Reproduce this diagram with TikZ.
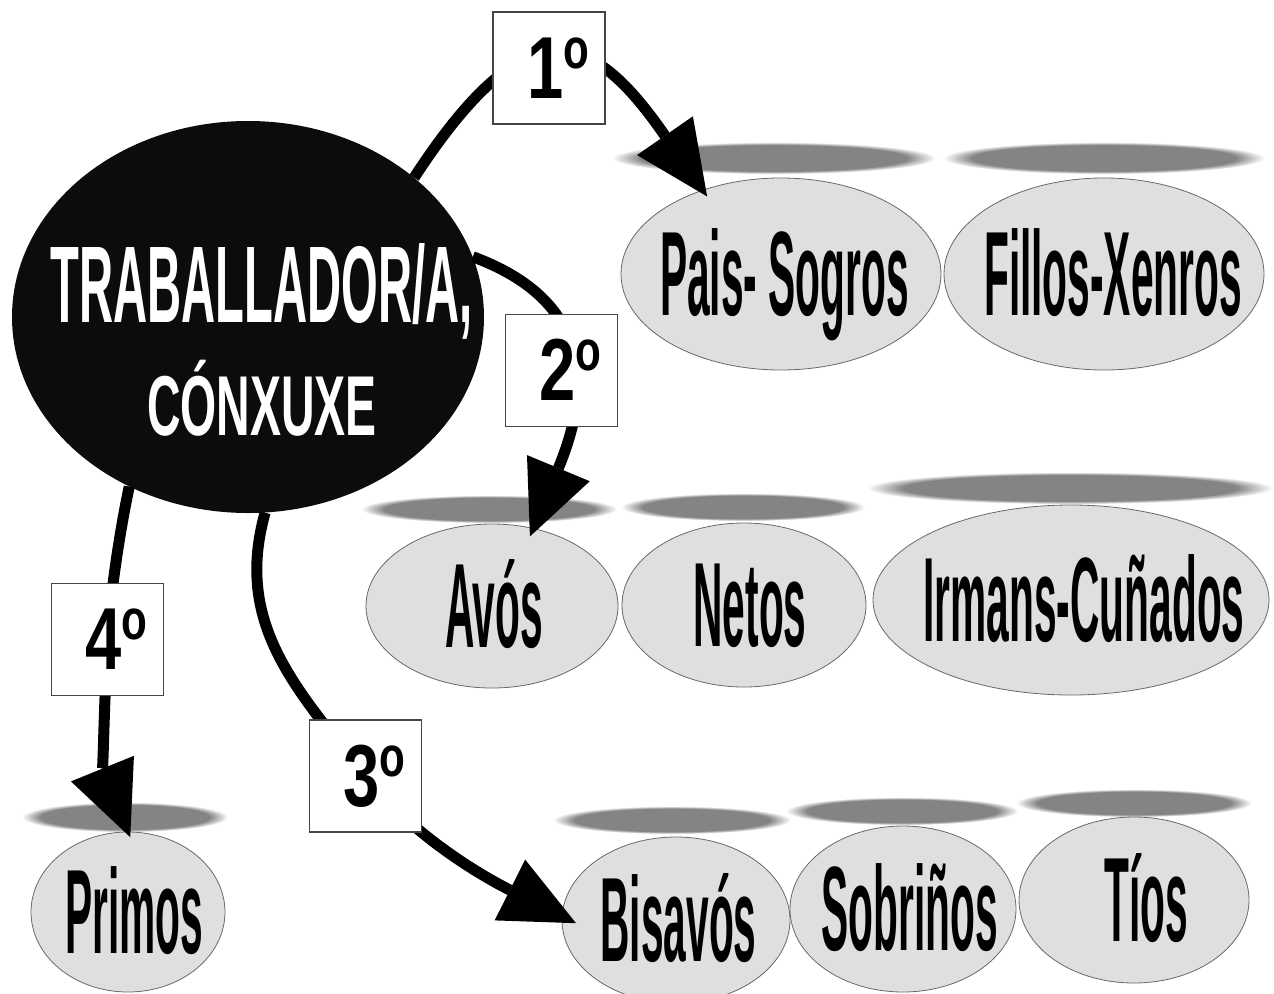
\documentclass[tikz,border=0pt]{standalone}
\usepackage{fontspec}
\setmainfont{Liberation Sans}
\usepackage{graphicx}
\usetikzlibrary{shapes.geometric,arrows.meta}
\definecolor{kinfill}{RGB}{223,223,223}
\definecolor{kinborder}{RGB}{105,105,105}
\definecolor{shc}{RGB}{132,132,132}
\definecolor{boxborder}{RGB}{70,70,70}
\definecolor{mainfill}{RGB}{12,12,12}
\pgfdeclareradialshading{softsh}{\pgfpointorigin}{color(0bp)=(shc); color(20.5bp)=(shc); color(25bp)=(white); color(50bp)=(white)}
\newcommand\kinlbl[2][0pt]{\makebox[0pt]{\hspace*{#1}\raisebox{-41pt}[0pt][0pt]{\scalebox{0.339}[1]{\fontsize{120}{120}\selectfont\bfseries #2}}}}
\newcommand\degtxt[1]{\makebox[0pt]{\hspace*{18pt}\raisebox{-30pt}[0pt][0pt]{\scalebox{0.74}[1]{\fontsize{88}{88}\selectfont\bfseries #1\raisebox{30pt}{\fontsize{57}{57}\selectfont o}}}}}
\begin{document}
\begin{tikzpicture}[x=1pt,y=-1pt,
  kin/.style={ellipse, draw=kinborder, line width=0.8pt, fill=kinfill, inner sep=0pt, text=black},
  mainell/.style={ellipse, fill=mainfill, inner sep=0pt},
  maintxt/.style={anchor=base, text=white, inner sep=0pt},
  degbox/.style={rectangle, draw=boxborder, line width=1.5pt, fill=white, minimum width=112pt, minimum height=112pt, inner sep=0pt, text=black},
  conn/.style={line width=11pt, draw=black, -{Triangle[length=74pt,width=68pt,line width=0pt]}},
  softshadow/.style={shading=softsh}]
\useasboundingbox (0,0) rectangle (1274,993);
\fill[white] (0,0) rectangle (1274,993);
% shadows
\shade[softshadow] (774,158) ellipse [x radius=162pt, y radius=16pt];
\shade[softshadow] (1104,158) ellipse [x radius=161pt, y radius=16pt];
\shade[softshadow] (489,509) ellipse [x radius=128pt, y radius=14pt];
\shade[softshadow] (743,507) ellipse [x radius=122pt, y radius=14pt];
\shade[softshadow] (1070,488) ellipse [x radius=203pt, y radius=16pt];
\shade[softshadow] (125,817) ellipse [x radius=103pt, y radius=15pt];
\shade[softshadow] (672,820) ellipse [x radius=119pt, y radius=14pt];
\shade[softshadow] (902,811) ellipse [x radius=116pt, y radius=14pt];
\shade[softshadow] (1134,803) ellipse [x radius=118pt, y radius=14pt];
% main node
\node[mainell, minimum width=472pt, minimum height=392pt] (main) at (248,317) {};
\node[maintxt] (mt1) at (261.5,322) {\scalebox{0.433}[1]{\fontsize{109}{109}\selectfont\bfseries TRABALLADOR/A,}};
\node[maintxt] (mt2) at (262,435) {\scalebox{0.546}[1]{\fontsize{85}{85}\selectfont\bfseries CÓNXUXE}};
% kin nodes
\node[kin, minimum width=320pt, minimum height=192pt] (pais) at (781,274) {\kinlbl[7pt]{Pais- Sogros}};
\node[kin, minimum width=320pt, minimum height=192pt] (fillos) at (1104,274) {\kinlbl[18pt]{Fillos-Xenros}};
\node[kin, minimum width=252pt, minimum height=164pt] (avos) at (492,606) {\kinlbl[4pt]{Avós}};
\node[kin, minimum width=244pt, minimum height=164pt] (netos) at (744,605) {\kinlbl[12pt]{Netos}};
\node[kin, minimum width=396pt, minimum height=190pt] (irmans) at (1071,600) {\kinlbl[26pt]{Irmans-Cuñados}};
\node[kin, minimum width=194pt, minimum height=160pt] (primos) at (128,912) {\kinlbl[13pt]{Primos}};
\node[kin, minimum width=228pt, minimum height=166pt] (bisavos) at (676,920) {\kinlbl[5pt]{Bisavós}};
\node[kin, minimum width=226pt, minimum height=166pt] (sobrinos) at (903,909) {\kinlbl[13pt]{Sobriños}};
\node[kin, minimum width=230pt, minimum height=166pt] (tios) at (1134,900) {\kinlbl[24pt]{Tíos}};
% box positions
\coordinate (b1c) at (549,68);
\coordinate (b2c) at (561.5,370.5);
\coordinate (b3c) at (365.5,776);
\coordinate (b4c) at (107.5,639.5);
% connectors
\draw[conn, shorten >=-8pt] (main.40) .. controls (530,0) and (593,32) .. (pais.133);
\draw[conn, shorten >=-9pt] (main.15) .. controls (590,300) and (593,385) .. (avos.62);
\draw[conn, shorten >=-16pt] (main.275) .. controls (234.5,622) and (293,686) .. (b3c) .. controls (413,836) and (482,876) .. (bisavos.178);
\draw[conn, shorten >=-6pt] (main.235) .. controls (118,540) and (110,600) .. (b4c) .. controls (104,710) and (103,770) .. (primos.north);
% degree boxes
\node[degbox] (box1) at (b1c) {\degtxt{1}};
\node[degbox] (box2) at (b2c) {\degtxt{2}};
\node[degbox] (box3) at (b3c) {\degtxt{3}};
\node[degbox] (box4) at (b4c) {\degtxt{4}};
\end{tikzpicture}
\end{document}
